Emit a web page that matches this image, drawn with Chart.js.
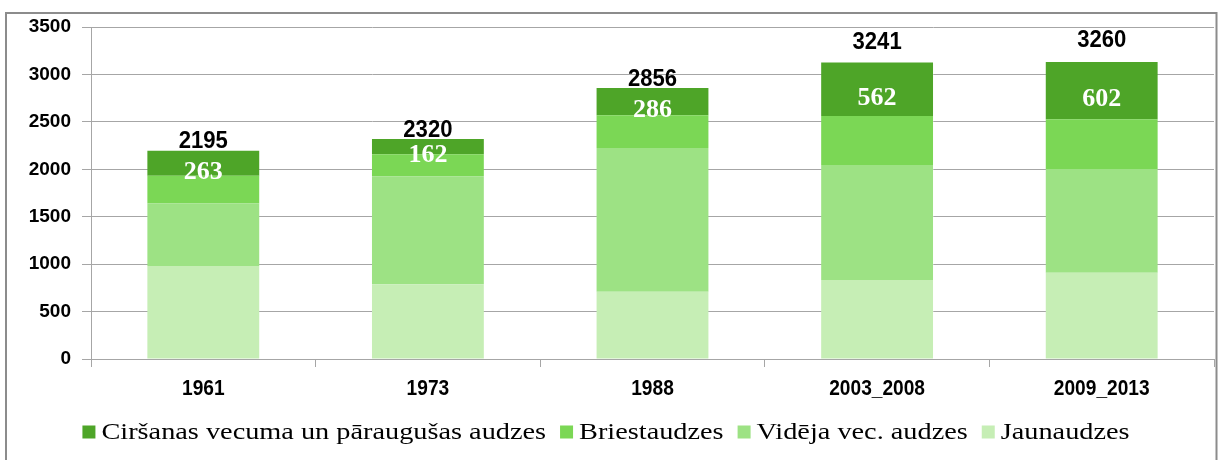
<!DOCTYPE html>
<html><head><meta charset="utf-8">
<script src="https://cdn.jsdelivr.net/npm/chart.js@4"></script>
<style>html,body{margin:0;padding:0;background:#fff}#wrap{width:1219px;height:460px;position:relative}</style>
</head><body><div id="wrap"><canvas id="c" width="1219" height="460"></canvas></div>
<script>
const categories = ['1961', '1973', '1988', '2003_2008', '2009_2013'];
const jaunaudzes = [980, 787, 710, 833, 910];
const videjaVec = [661, 1139, 1514, 1212, 1093];
const briestaudzes = [291, 232, 346, 518, 525];
const cirsanas = [263, 162, 286, 562, 602];
const totalLabels = [2195, 2320, 2856, 3241, 3260];
const yMin = 0, yMax = 3500, yStep = 500;
const seriesNames = ['Jaunaudzes', 'Vidēja vec. audzes', 'Briestaudzes', 'Ciršanas vecuma un pāraugušas audzes'];
const seriesColors = ['#c6eeb5', '#9de284', '#7bd755', '#4ea528'];
const seriesData = [jaunaudzes, videjaVec, briestaudzes, cirsanas];

const GRID = '#a6a6a6';

function scaledText(ctx, text, x, y, sx) {
  ctx.save();
  ctx.translate(x, y);
  ctx.scale(sx, 1);
  ctx.fillText(text, 0, 0);
  ctx.restore();
}

const overlay = {
  id: 'overlay',
  afterDraw(chart) {
    const ctx = chart.ctx;
    const y = chart.scales.y;
    const xs = chart.scales.x;
    const topMeta = chart.getDatasetMeta(3);
    ctx.save();
    ctx.textAlign = 'center';
    ctx.textBaseline = 'middle';
    // inner labels (top segment values)
    ctx.fillStyle = '#ffffff';
    ctx.font = 'bold 26px "Liberation Serif"';
    topMeta.data.forEach((el, i) => {
      const cy = (el.y + el.base) / 2 + 9;
      ctx.fillText(String(cirsanas[i]), el.x, cy);
    });
    // total labels
    ctx.fillStyle = '#000000';
    ctx.font = 'bold 24px "Liberation Sans"';
    topMeta.data.forEach((el, i) => {
      const ty = y.getPixelForValue(totalLabels[i]) - 9;
      scaledText(ctx, String(totalLabels[i]), el.x, ty, 0.92);
    });
    // x category labels
    ctx.font = 'bold 22px "Liberation Sans"';
    categories.forEach((c, i) => {
      scaledText(ctx, c, xs.getPixelForValue(i), 389, 0.87);
    });
    // legend (reverse order)
    const lsx = 1.23;
    ctx.font = '23px "Liberation Serif"';
    ctx.textAlign = 'left';
    const box = 13, gapText = 6, gapItem = 14;
    const order = [3, 2, 1, 0];
    let total = 0;
    order.forEach((k, j) => {
      total += box + gapText + ctx.measureText(seriesNames[k]).width * lsx + (j < order.length - 1 ? gapItem : 0);
    });
    let x = 606 - total / 2;
    const ly = 432;
    order.forEach(k => {
      ctx.fillStyle = seriesColors[k];
      ctx.fillRect(x, ly - box / 2, box, box);
      x += box + gapText;
      ctx.fillStyle = '#000000';
      scaledText(ctx, seriesNames[k], x, ly + 1, lsx);
      x += ctx.measureText(seriesNames[k]).width * lsx + gapItem;
    });
    // outer border
    ctx.strokeStyle = '#8c8c8c';
    ctx.lineWidth = 2;
    ctx.beginPath();
    ctx.moveTo(6, 460); ctx.lineTo(6, 13); ctx.lineTo(1216.5, 13); ctx.lineTo(1216.5, 460);
    ctx.stroke();
    ctx.restore();
  }
};

new Chart(document.getElementById('c'), {
  type: 'bar',
  data: {
    labels: categories,
    datasets: seriesData.map((d, i) => ({
      label: seriesNames[i],
      data: d,
      backgroundColor: seriesColors[i],
      borderWidth: 0,
      barPercentage: 0.498,
      categoryPercentage: 1.0
    }))
  },
  options: {
    responsive: false,
    animation: false,
    devicePixelRatio: 1,
    layout: { padding: { left: 0, right: 5, top: 27, bottom: 0 } },
    plugins: { legend: { display: false }, tooltip: { enabled: false } },
    scales: {
      x: {
        stacked: true,
        afterFit(s) { s.height = 101; },
        grid: { offset: true, drawOnChartArea: false, drawTicks: true, tickLength: 8, color: GRID },
        border: { display: true, color: GRID },
        ticks: { display: false }
      },
      y: {
        stacked: true,
        min: yMin, max: yMax,
        afterFit(s) { s.width = 91; },
        grid: { color: GRID, tickLength: 9 },
        border: { display: true, color: GRID },
        ticks: { stepSize: yStep, color: '#000', padding: 11, callback: v => String(v), font: { family: '"Liberation Sans"', size: 19, weight: 'bold' } }
      }
    }
  },
  plugins: [overlay]
});
</script>
</body></html>
